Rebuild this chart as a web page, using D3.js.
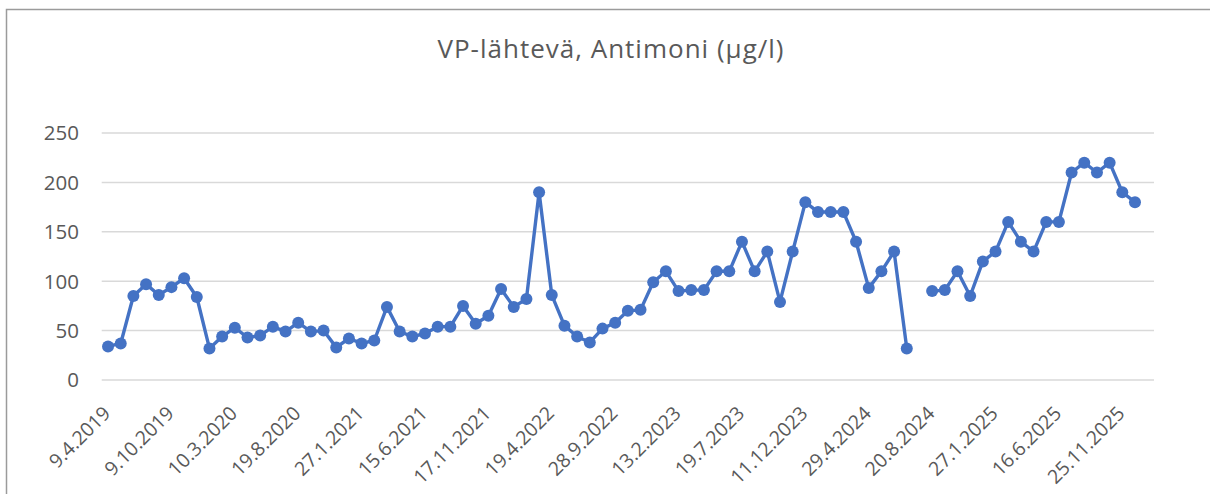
<!DOCTYPE html>
<html>
<head>
<meta charset="utf-8">
<script src="https://cdn.jsdelivr.net/npm/d3@7"></script>
<style>
  body { margin: 0; background: #fff; }
  text { font-family: "Open Sans", Lato, sans-serif; fill: #595959; }
</style>
</head>
<body>
<div id="chart"></div>
<script>
// measured values, one per sample (null = missing sample)
var values = [34, 37, 85, 97, 86, 94, 103, 84, 32, 44,
              53, 43, 45, 54, 49, 58, 49, 50, 33, 42,
              37, 40, 74, 49, 44, 47, 54, 54, 75, 57,
              65, 92, 74, 82, 190, 86, 55, 44, 38, 52,
              58, 70, 71, 99, 110, 90, 91, 91, 110, 110,
              140, 110, 130, 79, 130, 180, 170, 170, 170, 140,
              93, 110, 130, 32, null, 90, 91, 110, 85, 120,
              130, 160, 140, 130, 160, 160, 210, 220, 210, 220,
              190, 180];

// every 5th category gets a date label
var tickLabels = ["9.4.2019", "9.10.2019", "10.3.2020", "19.8.2020", "27.1.2021",
                  "15.6.2021", "17.11.2021", "19.4.2022", "28.9.2022", "13.2.2023",
                  "19.7.2023", "11.12.2023", "29.4.2024", "20.8.2024", "27.1.2025",
                  "16.6.2025", "25.11.2025"];
var yTicks = [0, 50, 100, 150, 200, 250];
var title = "VP-lähtevä, Antimoni (µg/l)";

var W = 1210, H = 494;
var nCats = values.length + 1;  // the axis has one empty slot at the end

var svg = d3.select("#chart").append("svg")
    .attr("width", W)
    .attr("height", H);

// chart frame (runs off the right and bottom edge)
svg.append("rect")
    .attr("x", 6.5).attr("y", 9.5)
    .attr("width", 1220).attr("height", 500)
    .attr("fill", "none")
    .attr("stroke", "#9b9b9b")
    .attr("stroke-width", 1.5);

svg.append("text")
    .attr("x", 611).attr("y", 58)
    .attr("text-anchor", "middle")
    .style("font-size", "26px")
    .style("letter-spacing", "1px")
    .text(title);

var x = d3.scaleBand()
    .domain(d3.range(nCats))
    .range([101.7, 1154]);

var y = d3.scaleLinear()
    .domain([0, 250])
    .range([380, 133]);

function cx(i) { return x(i) + x.bandwidth() / 2; }

// gridlines
svg.append("g")
  .selectAll("line")
  .data(yTicks)
  .enter().append("line")
    .attr("x1", x.range()[0]).attr("x2", x.range()[1])
    .attr("y1", function(d) { return y(d); })
    .attr("y2", function(d) { return y(d); })
    .attr("stroke", "#d9d9d9")
    .attr("stroke-width", 1.5);

// y labels
svg.append("g")
  .selectAll("text")
  .data(yTicks)
  .enter().append("text")
    .attr("x", 79)
    .attr("y", function(d) { return y(d); })
    .attr("dy", "0.36em")
    .attr("text-anchor", "end")
    .style("font-size", "20.5px")
    .text(function(d) { return d; });

// x labels, rotated
svg.append("g")
  .selectAll("text")
  .data(tickLabels)
  .enter().append("text")
    .attr("transform", function(d, i) {
      return "translate(" + (cx(i * 5) - 6) + ",405) rotate(-45)";
    })
    .attr("text-anchor", "end")
    .attr("dy", "0.7em")
    .style("font-size", "19.5px")
    .text(function(d) { return d; });

var line = d3.line()
    .defined(function(d) { return d != null; })
    .x(function(d, i) { return cx(i); })
    .y(function(d) { return y(d); });

svg.append("path")
    .datum(values)
    .attr("d", line)
    .attr("fill", "none")
    .attr("stroke", "#4472c4")
    .attr("stroke-width", 3.4)
    .attr("stroke-linejoin", "round");

svg.append("g")
  .selectAll("circle")
  .data(values.map(function(v, i) { return {v: v, i: i}; })
               .filter(function(d) { return d.v != null; }))
  .enter().append("circle")
    .attr("cx", function(d) { return cx(d.i); })
    .attr("cy", function(d) { return y(d.v); })
    .attr("r", 6)
    .attr("fill", "#4472c4");
</script>
</body>
</html>
